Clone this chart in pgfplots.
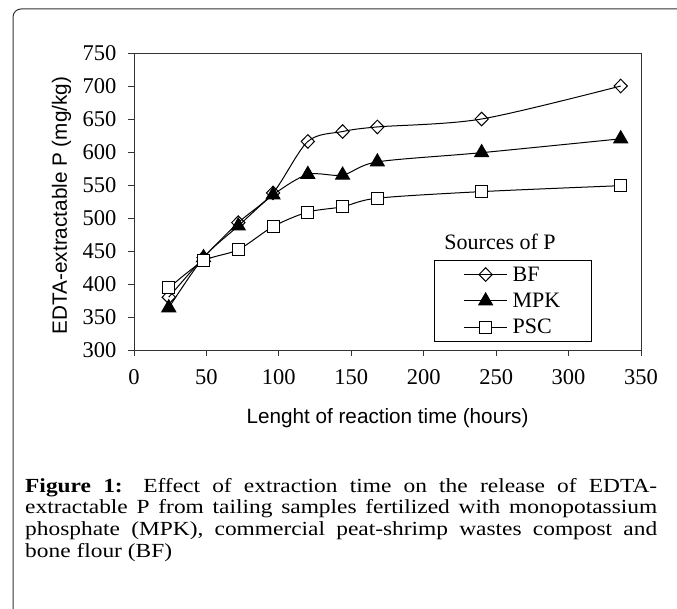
\documentclass[border=0pt]{standalone}
\usepackage{pgfplots}
\pgfplotsset{compat=1.18}
\usepackage{fontspec}
\setmainfont{Liberation Serif}
\setsansfont{Liberation Sans}
\newfontfamily\capfont[FakeStretch=1.17]{Liberation Serif}

\begin{document}
\begin{tikzpicture}[x=1pt,y=1pt]
\useasboundingbox (0,0) rectangle (677,-609);
% page frame, open to the right and bottom
\draw[line width=1pt, black!80, rounded corners=8pt] (700,-9) -- (13,-9) -- (13,-640);

\begin{axis}[
  at={(134pt,-350pt)}, anchor=south west,
  scale only axis, width=507pt, height=297pt,
  xmin=0, xmax=350, ymin=300, ymax=750,
  xtick={0,50,...,350}, ytick={300,350,...,750},
  tick align=outside, tick pos=left,
  major tick length=6pt,
  axis line style={line width=1pt, black!80},
  every tick/.style={line width=1pt, black!80},
  /pgf/number format/assume math mode=true,
  tick label style={font=\fontsize{22.5}{22.5}\selectfont},
  xticklabel style={yshift=-10pt},
  yticklabel style={xshift=-8pt},
  xlabel={Lenght of reaction time (hours)},
  ylabel={EDTA-extractable P (mg/kg)},
  every axis x label/.style={at={(rel axis cs:0.5,0)}, anchor=base, yshift=-73pt,
    font=\sffamily\fontsize{20.7}{22}\selectfont},
  every axis y label/.style={at={(rel axis cs:0,0.5)}, xshift=-67pt, yshift=-4pt,
    rotate=90, anchor=base, font=\sffamily\fontsize{20.7}{22}\selectfont},
  legend style={at={(0.903,0.027)}, anchor=south east, draw=black, line width=1pt,
    font=\fontsize{22}{22}\selectfont, inner xsep=29pt, inner ysep=4pt,
    row sep=6.5pt, /tikz/every odd column/.append style={column sep=3pt}},
  legend cell align=left,
  legend image code/.code={\draw[mark repeat=2,mark phase=2]
    plot coordinates {(0pt,0pt) (21.5pt,0pt) (43pt,0pt)};},
]

% BF
\addplot[black, line width=1pt, smooth, mark=diamond, mark size=6.8pt,
  mark options={fill=white, xscale=1.3, solid}] coordinates {
  (24,380) (48,440) (72,493) (96,538) (120,616) (144,631) (168,638) (240,650) (336,700)
};
% MPK
\addplot[black, line width=1pt, smooth, mark=triangle*, mark size=8pt,
  mark options={fill=black, solid}] coordinates {
  (24,364) (48,440) (72,488) (96,535) (120,566) (144,565) (168,585) (240,599) (336,620)
};
% PSC
\addplot[black, line width=1pt, smooth, mark=square*, mark size=6pt,
  mark options={fill=white, solid}] coordinates {
  (24,394) (48,435) (72,452) (96,487) (120,509) (144,517) (168,530) (240,540) (336,549)
};
\legend{BF, MPK, PSC}

\node[font=\fontsize{22}{22}\selectfont] at (rel axis cs:0.722,0.365) {Sources of P};
\end{axis}

\node[anchor=base west, inner sep=0pt] at (25,-492) {\parbox[t]{632pt}{\capfont\fontsize{20}{21.7}\selectfont
\textbf{Figure 1:} Effect of extraction time on the release of EDTA-\linebreak
extractable P from tailing samples fertilized with monopotassium\linebreak
phosphate (MPK), commercial peat-shrimp wastes compost and\linebreak
bone flour (BF)}};
\end{tikzpicture}
\end{document}
